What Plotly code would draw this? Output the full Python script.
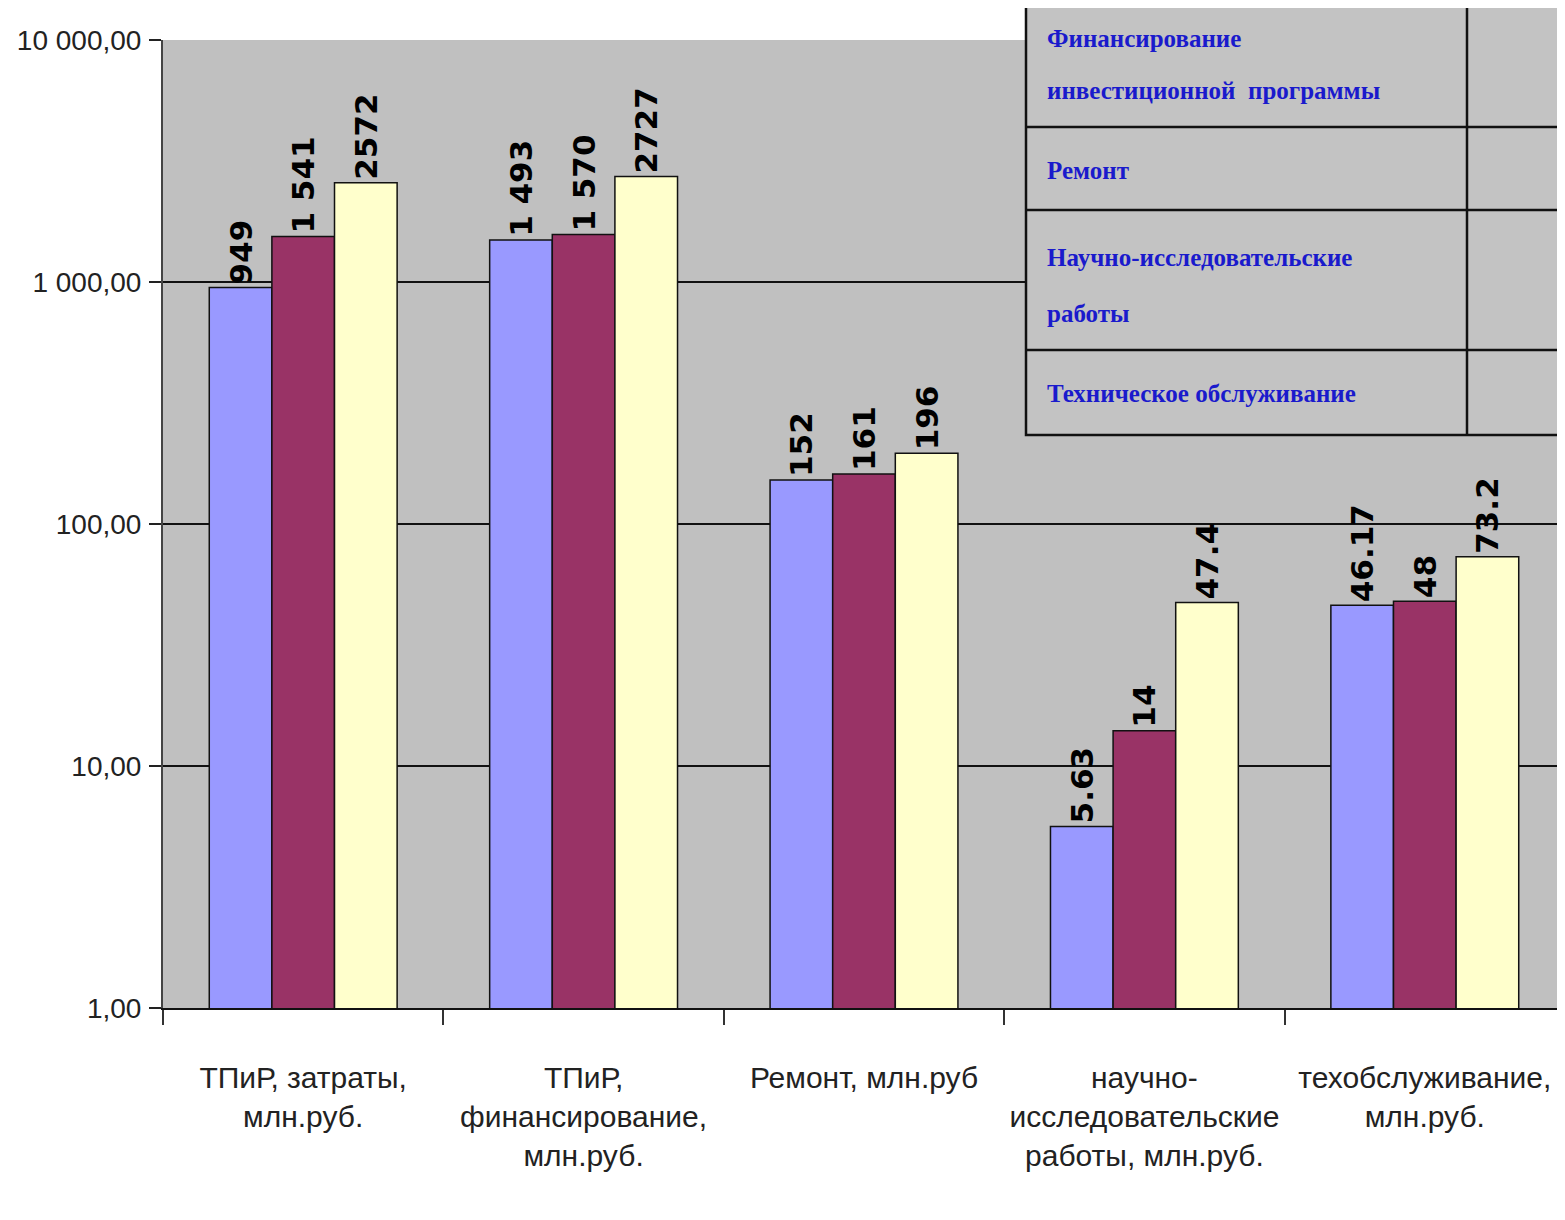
import plotly.graph_objects as go

categories = [
    "ТПиР, затраты,<br>млн.руб.",
    "ТПиР,<br>финансирование,<br>млн.руб.",
    "Ремонт, млн.руб",
    "научно-<br>исследовательские<br>работы, млн.руб.",
    "техобслуживание,<br>млн.руб.",
]
series_names = ["Ряд 1", "Ряд 2", "Ряд 3"]
values_1 = [949, 1493, 152, 5.63, 46.17]
values_2 = [1541, 1570, 161, 14, 48]
values_3 = [2572, 2727, 196, 47.4, 73.2]
labels_1 = ["949", "1 493", "152", "5.63", "46.17"]
labels_2 = ["1 541", "1 570", "161", "14", "48"]
labels_3 = ["2572", "2727", "196", "47.4", "73.2"]
y_tickvals = [1, 10, 100, 1000, 10000]
y_ticktext = ["1,00", "10,00", "100,00", "1 000,00", "10 000,00"]
table_rows = [
    ["Финансирование", "инвестиционной  программы"],
    ["Ремонт"],
    ["Научно-исследовательские", "работы"],
    ["Техническое обслуживание"],
]

colors = ["#9999FF", "#993366", "#FFFFCC"]

OFF = 8  # page body margin
W, H = 1557, 1212
ML, MR, MT, MB = 155, 0, 32, 212
PW = W - ML - MR
PH = H - MT - MB


def px_x(x):
    return (x - OFF - ML) / PW


def px_y(y):
    return ((H - MB) - (y - OFF)) / PH


fig = go.Figure()
for name, vals, labs, col in zip(series_names, [values_1, values_2, values_3],
                                 [labels_1, labels_2, labels_3], colors):
    fig.add_trace(go.Bar(
        x=categories, y=vals, name=name, text=labs,
        textposition="outside", textangle=-90, constraintext="none",
        textfont=dict(family="DejaVu Sans", size=31, color="black", weight="bold"),
        marker=dict(color=col, line=dict(color="#111111", width=1.5)),
        cliponaxis=False,
    ))

axis_font = dict(family="Liberation Sans Narrow, Arial Narrow, Liberation Sans, sans-serif",
                 size=30, color="#222222")
yaxis_font = dict(family="Liberation Sans Narrow, Arial Narrow, Liberation Sans, sans-serif",
                  size=28, color="#222222")

fig.update_layout(
    width=W, height=H,
    margin=dict(l=ML, r=MR, t=MT, b=MB, autoexpand=False),
    paper_bgcolor="white",
    plot_bgcolor="#C0C0C0",
    barmode="group", bargap=0.33, bargroupgap=0,
    showlegend=False,
    xaxis=dict(
        type="category", range=[-0.5, 4.5], automargin=False,
        showline=True, linecolor="#111111", linewidth=2,
        ticks="outside", tickson="boundaries", ticklen=15, tickcolor="#333333", tickwidth=2,
        ticklabelstandoff=42, tickangle=0,
        tickfont=axis_font, showgrid=False,
    ),
    yaxis=dict(
        type="log", range=[0, 4], automargin=False,
        tickvals=y_tickvals, ticktext=y_ticktext,
        showline=True, linecolor="#444444", linewidth=2,
        ticks="outside", ticklen=12, tickcolor="#222222", tickwidth=2,
        showgrid=True, gridcolor="#111111", gridwidth=2,
        tickfont=yaxis_font, ticklabelstandoff=2,
        zeroline=False,
    ),
)

# table overlay
tx0, tx1, tdiv = 1026, 1580, 1467
ty0, ty1 = -5, 435
row_lines = [127, 210, 350]
shapes = [dict(type="rect", xref="paper", yref="paper",
               x0=px_x(tx0), x1=px_x(tx1), y0=px_y(ty1), y1=px_y(ty0),
               fillcolor="#C3C3C3", line=dict(color="#111111", width=2.5), layer="above")]
for ry in row_lines:
    shapes.append(dict(type="line", xref="paper", yref="paper",
                       x0=px_x(tx0), x1=px_x(tx1), y0=px_y(ry), y1=px_y(ry),
                       line=dict(color="#111111", width=2.5), layer="above"))
shapes.append(dict(type="line", xref="paper", yref="paper",
                   x0=px_x(tdiv), x1=px_x(tdiv), y0=px_y(ty1), y1=px_y(ty0),
                   line=dict(color="#111111", width=2.5), layer="above"))
fig.update_layout(shapes=shapes)

line_y = [[38, 90], [170], [258, 313], [393]]
for lines, ys in zip(table_rows, line_y):
    for t, y in zip(lines, ys):
        fig.add_annotation(
            text=t, xref="paper", yref="paper", x=px_x(1045), y=px_y(y),
            xanchor="left", yanchor="middle", showarrow=False,
            font=dict(family="Liberation Serif, Times New Roman, serif", size=25,
                      color="#1A1ACC", weight="bold"),
        )

fig.write_html("out.html")
